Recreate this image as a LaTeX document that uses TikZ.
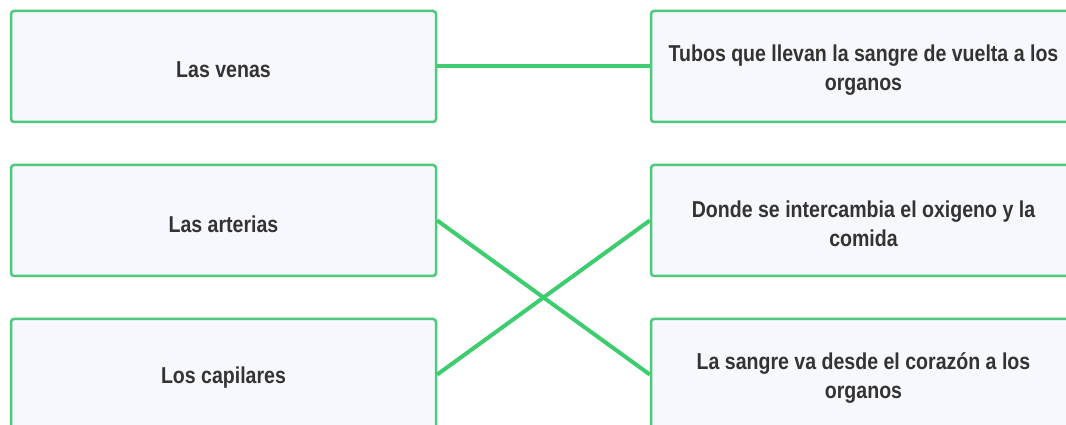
\documentclass[tikz,border=0pt]{standalone}
\usepackage{fontspec}
\setmainfont[FakeStretch=0.85]{Liberation Sans}
\definecolor{boxline}{HTML}{4CC97A}
\definecolor{boxfill}{HTML}{F7F8FD}
\definecolor{linkgreen}{HTML}{3DCC6E}
\definecolor{txt}{HTML}{333333}
\begin{document}
\begin{tikzpicture}[x=1pt,y=1pt,
  item/.style={rectangle, rounded corners=3pt, draw=boxline, line width=2.5pt, fill=boxfill,
    minimum width=425pt, minimum height=111pt, inner sep=0pt},
  lab/.style={inner sep=0pt, align=center, yshift=-3.5pt,
    text=txt, font=\fontsize{23}{29}\selectfont\bfseries},
  link/.style={draw=linkgreen, line width=4pt}]
\useasboundingbox (0,0) rectangle (1066,425);
\fill[white] (0,0) rectangle (1066,425);
\node[item, label={[lab]center:Las venas}] (l1) at (223.5,358.5) {};
\node[item, label={[lab]center:Las arterias}] (l2) at (223.5,204.5) {};
\node[item, label={[lab]center:Los capilares}] (l3) at (223.5,50.5) {};
\node[item, label={[lab]center:{Tubos que llevan la sangre de vuelta a los\\organos}}] (r1) at (863.5,358.5) {};
\node[item, label={[lab]center:{Donde se intercambia el oxigeno y la\\comida}}] (r2) at (863.5,204.5) {};
\node[item, label={[lab]center:{La sangre va desde el corazón a los\\organos}}] (r3) at (863.5,50.5) {};
\draw[link] (l1.east) -- (r1.west);
\draw[link] (l2.east) -- (r3.west);
\draw[link] (l3.east) -- (r2.west);
\end{tikzpicture}
\end{document}
